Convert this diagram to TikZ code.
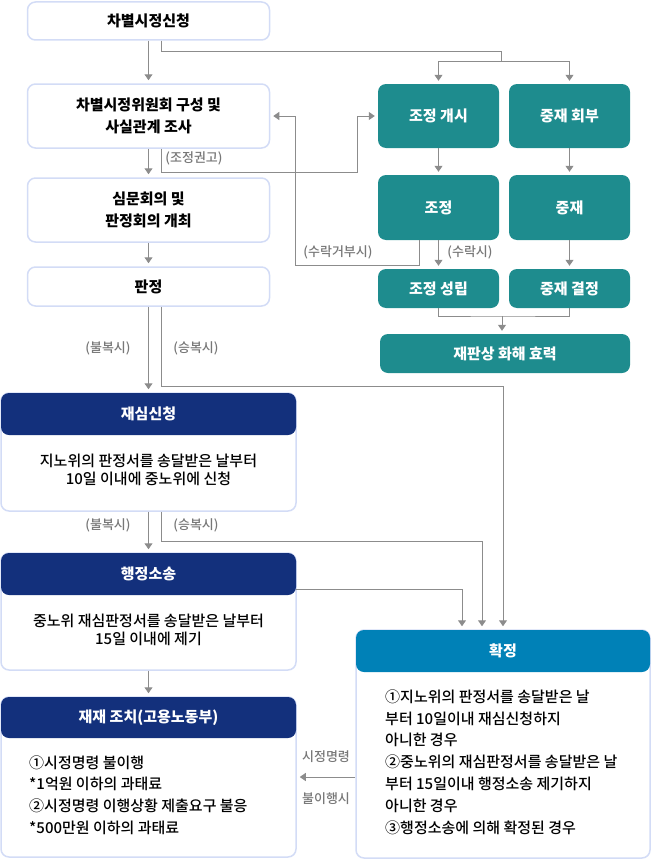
\documentclass[tikz,border=0pt]{standalone}
\usepackage{fontspec}
\setmainfont{Noto Sans CJK KR}[UprightFont = * Medium]
\usetikzlibrary{arrows.meta}

\definecolor{boxline}{HTML}{D3DCF6}
\definecolor{medteal}{HTML}{1E8C8E}
\definecolor{headnavy}{HTML}{13307C}
\definecolor{headblue}{HTML}{0081B7}
\definecolor{linegray}{HTML}{8C8C8C}
\definecolor{notegray}{HTML}{777777}
\newcommand{\fsz}[2]{\fontsize{#1}{#2}\selectfont}

\begin{document}
\begin{tikzpicture}[x=1pt,y=-1pt]

\tikzset{lightbox/.style = {draw=boxline, line width=1.5pt, fill=white, rounded corners=8pt, minimum width=242pt, inner sep=0pt, align=center, font=\bfseries\fsz{15}{22}}}
\tikzset{medbox/.style = {fill=medteal, rounded corners=8pt, minimum width=121pt, inner sep=0pt, text=white, font=\bfseries\fsz{15}{20}}}
\tikzset{bodybox/.style = {draw=boxline, line width=1.5pt, fill=white, rounded corners=8pt, minimum width=295pt, inner sep=0pt}}
\tikzset{headbox/.style = {fill=headnavy, rounded corners=8pt, minimum width=295pt, minimum height=42pt, inner sep=0pt, text=white, font=\bfseries\fsz{15}{20}}}
\tikzset{bodytext/.style = {inner sep=0pt, align=center, font=\fsz{15}{18}}}
\tikzset{listtext/.style = {inner sep=0pt, anchor=west, align=left, font=\fsz{15}{21.8}}}
\tikzset{note/.style = {inner sep=0pt, text=notegray, font=\fsz{13}{14}}}
\tikzset{link/.style = {draw=linegray, line width=1pt}}
\tikzset{edge/.style = {link, -{Triangle[width=8pt,length=6pt]}, shorten >=3pt}}

\useasboundingbox (0,0) rectangle (651,859);

%left column
\node[lightbox, minimum height=38pt] (apply) at (148.5,21) {차별시정신청};
\node[lightbox, minimum height=64pt] (committee) at (148.5,116) {차별시정위원회 구성 및\\사실관계 조사};
\node[lightbox, minimum height=64pt] (hearing) at (148.5,210) {심문회의 및\\판정회의 개최};
\node[lightbox, minimum height=39pt] (ruling) at (148.5,286.5) {판정};

%mediation and arbitration
\node[medbox, minimum height=64pt] (medstart) at (438.5,116) {조정 개시};
\node[medbox, minimum height=64pt] (arbref) at (569.5,116) {중재 회부};
\node[medbox, minimum height=65pt] (med) at (438.5,207.5) {조정};
\node[medbox, minimum height=65pt] (arb) at (569.5,207.5) {중재};
\node[medbox, minimum height=39pt] (medok) at (438.5,288.5) {조정 성립};
\node[medbox, minimum height=39pt] (arbok) at (569.5,288.5) {중재 결정};
\node[medbox, minimum height=39pt, minimum width=250pt] (effect) at (505,353.5) {재판상 화해 효력};

%review and suit
\node[bodybox, minimum height=118pt] (review) at (148.5,452) {};
\node[headbox] (reviewhead) at (148.5,414) {재심신청};
\node[bodytext] (reviewtext) at (148.5,470) {지노위의 판정서를 송달받은 날부터\\10일 이내에 중노위에 신청};

\node[bodybox, minimum height=117pt] (suit) at (148.5,611.5) {};
\node[headbox] (suithead) at (148.5,574) {행정소송};
\node[bodytext] (suittext) at (148.5,630) {중노위 재심판정서를 송달받은 날부터\\15일 이내에 제기};

\node[bodybox, minimum height=160pt] (sanction) at (148.5,777) {};
\node[headbox, minimum height=41pt] (sanctionhead) at (148.5,717.5) {재재 조치(고용노동부)};
\node[listtext] (sanctiontext) at (29,795) {①시정명령 불이행\\*1억원 이하의 과태료\\②시정명령 이행상황 제출요구 불응\\*500만원 이하의 과태료};

\node[bodybox, minimum width=294pt, minimum height=228pt] (final) at (503,744) {};
\node[headbox, fill=headblue, minimum width=294pt] (finalhead) at (503,651) {확정};
\node[listtext] (finaltext) at (385,762) {①지노위의 판정서를 송달받은 날\\부터 10일이내 재심신청하지\\아니한 경우\\②중노위의 재심판정서를 송달받은 날\\부터 15일이내 행정소송 제기하지\\아니한 경우\\③행정소송에 의해 확정된 경우};

%connectors
\coordinate (fork) at (501,62);
\draw[edge] (apply) -- (committee);
\draw[link] ([xshift=13pt]apply.south) |- ([yshift=10pt]fork) -- (fork);
\draw[edge] (fork) -| (medstart.north);
\draw[edge] (fork) -| (arbref.north);

\coordinate (advise) at (357,172);
\draw[edge] (committee) -- (hearing);
\draw[edge] ([xshift=13pt]committee.south) |- (advise) |- (medstart.west);
\node[note] (advisenote) at (194,158) {(조정권고)};

\coordinate (refuse) at (295,265);
\draw[edge] (medstart) -- (med);
\draw[edge] (arbref) -- (arb);
\draw[edge] (med) -- (medok);
\draw[edge] (arb) -- (arbok);
\draw[edge] ([xshift=-19pt]med.south) |- (refuse) |- (committee.east);
\node[note] (refusenote) at (338,252) {(수락거부시)};
\node[note] (acceptnote) at (470,252) {(수락시)};

\coordinate (merge) at (502,316);
\draw[link] (medok.south) |- (merge) -| (arbok.south);
\draw[edge] (merge) -- (merge |- effect.north);

\coordinate (win1) at (503,386);
\draw[edge] (hearing) -- (ruling);
\draw[edge] (ruling.south) -- (ruling.south |- review.north);
\draw[edge] ([xshift=13pt]ruling.south) |- (win1) -- (win1 |- final.north);
\node[note] (objnote1) at (108,348) {(불복시)};
\node[note] (winnote1) at (196,348) {(승복시)};

\coordinate (win2) at (482,541);
\draw[edge] (review.south) -- (review.south |- suit.north);
\draw[edge] ([xshift=13pt]review.south) |- (win2) -- (win2 |- final.north);
\node[note] (objnote2) at (108,525) {(불복시)};
\node[note] (winnote2) at (196,525) {(승복시)};

\draw[edge] ([yshift=-15pt]suithead.east) -| ([xshift=-41pt]final.north);
\draw[edge] (suit.south) -- (suit.south |- sanction.north);

\draw[edge] (sanction.east -| final.west) -- (sanction.east);
\node[note] (ordernote) at (326,757) {시정명령};
\node[note] (failnote) at (326,799) {불이행시};

\end{tikzpicture}
\end{document}
